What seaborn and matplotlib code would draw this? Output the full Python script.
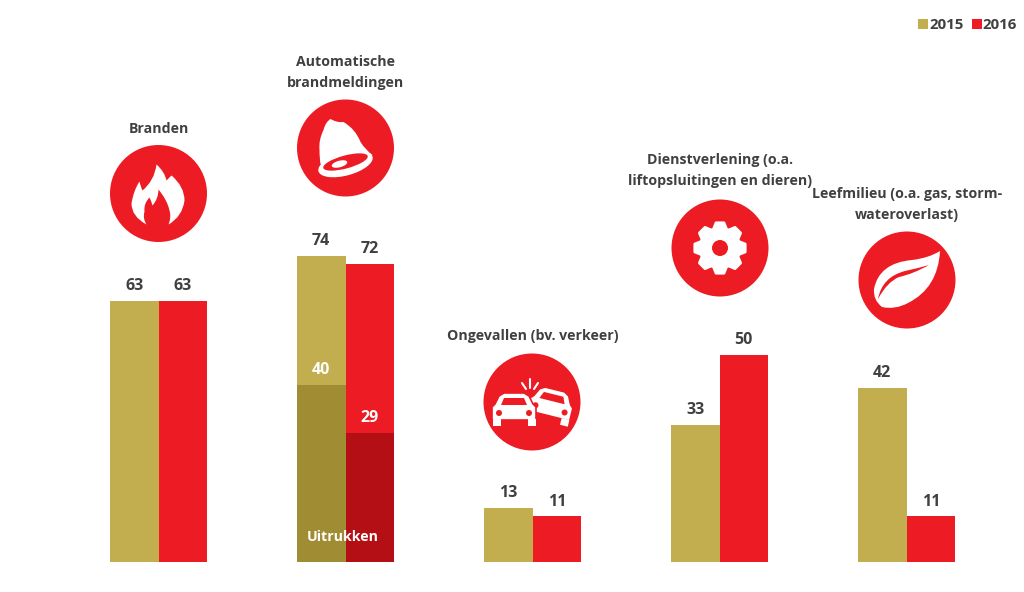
import numpy as np
import pandas as pd
import seaborn as sns
import matplotlib.pyplot as plt
from matplotlib.path import Path
from matplotlib.patches import Circle, Ellipse, PathPatch, Polygon, Rectangle
from matplotlib.transforms import Affine2D

categories = ['Branden', 'Automatische\nbrandmeldingen', 'Ongevallen (bv. verkeer)',
              'Dienstverlening (o.a.\nliftopsluitingen en dieren)', 'Leefmilieu (o.a. gas, storm-\nwateroverlast)']
years = ['2015', '2016']
values_2015 = [63, 74, 13, 33, 42]
values_2016 = [63, 72, 11, 50, 11]
# Uitrukken: labels say 40 and 29, the drawn bars are a bit taller than that
uitrukken_labels = [40, 29]
uitrukken_heights = [42.7, 31.2]

RED = '#ED1C24'
GOLD = '#C2AD4F'
DARK_GOLD = '#A08C32'
DARK_RED = '#B40F14'
TEXT = '#404040'

sns.set_theme(style='white')
plt.rcParams['font.family'] = ['Open Sans', 'DejaVu Sans']


def curved(ax, cx, cy, start, segs, color='white'):
    # segs is a list of (control, end) pairs, quadratic curves
    verts = [(cx + start[0], cy + start[1])]
    codes = [Path.MOVETO]
    for ctrl, end in segs:
        verts += [(cx + ctrl[0], cy + ctrl[1]), (cx + end[0], cy + end[1])]
        codes += [Path.CURVE3, Path.CURVE3]
    ax.add_patch(PathPatch(Path(verts, codes), fc=color, ec='none'))


def draw_flame(ax, cx, cy):
    curved(ax, cx, cy, (-2, -29), [
        ((6, -22), (8, -13)), ((10, -15), (13, -18)), ((26, -7), (26, 7)), ((24, 23), (10, 31)),
        ((13, 24), (11, 17)), ((9, 7), (0, -4)), ((0, 5), (-6, 12)), ((-7, 8), (-9, 4)),
        ((-15, 10), (-14, 18)), ((-16, 25), (-12, 31)), ((-27, 23), (-27, 10)), ((-25, -3), (-19, -12)),
        ((-18, -7), (-16, -3)), ((-4, -13), (-2, -29)),
    ])


def draw_bell(ax, cx, cy):
    curved(ax, cx, cy, (-15, -29), [
        ((-20, -26), (-22, -18)), ((-27, -8), (-26, 2)), ((-26, 10), (-25, 16)), ((-10, 26), (27, 7)),
        ((20, 2), (15, -6)), ((10, -19), (-2, -26)), ((-8, -25), (-15, -29)),
    ])
    ax.add_patch(Ellipse((0 + cx, cy + 16), 56, 23, angle=-15, fc='white', ec='none'))
    ax.add_patch(Ellipse((cx, cy + 14), 46, 13, angle=-15, fc=RED, ec='none'))
    ax.add_patch(Ellipse((cx - 6, cy + 16), 16, 6.5, angle=-15, fc='white', ec='none'))


def draw_gear(ax, cx, cy, teeth=8):
    pts = []
    step = 2 * np.pi / teeth
    for i in range(teeth):
        a = step * i - np.pi / 2
        for da, r in [(-0.42, 20), (-0.2, 25.5), (0.2, 25.5), (0.42, 20)]:
            pts.append((cx + r * np.cos(a + da * step), cy + r * np.sin(a + da * step)))
    ax.add_patch(Polygon(pts, fc='white', ec='white', lw=2, joinstyle='round'))
    ax.add_patch(Circle((cx, cy), 8, fc=RED, ec='none'))


def draw_leaf(ax, cx, cy):
    curved(ax, cx, cy, (-25, 27), [
        ((-34, 20), (-33, 9)), ((-28, -17), (5, -20)), ((22, -22), (33, -29)), ((31, 8), (1, 23)), ((-12, 30), (-25, 27)),
    ])
    curved(ax, cx, cy, (-29, 19), [
        ((-25, -3), (-2, -9)), ((12, -12), (22, -15)), ((6, -6), (-8, -3)), ((-20, 2), (-29, 19)),
    ], color=RED)


def draw_car(ax, cx, cy, angle=0):
    tr = Affine2D().rotate_deg(angle).translate(cx, cy) + ax.transData
    body = [(-22, 11), (-22, -2), (-19, -5), (-15, -13), (-10, -16), (10, -16), (15, -13), (19, -5), (22, -2), (22, 11)]
    window = [(-13, -4), (-10, -11), (10, -11), (13, -4)]
    ax.add_patch(Polygon(body, fc='white', ec=RED, lw=1.2, transform=tr, joinstyle='round', zorder=4))
    ax.add_patch(Rectangle((-21.5, 10), 8, 7, fc='white', ec='none', transform=tr, zorder=4))
    ax.add_patch(Rectangle((13.5, 10), 8, 7, fc='white', ec='none', transform=tr, zorder=4))
    ax.add_patch(Polygon(window, fc=RED, ec='none', transform=tr, zorder=4))
    ax.add_patch(Circle((-15, 4), 3, fc=RED, ec='none', transform=tr, zorder=4))
    ax.add_patch(Circle((15, 4), 3, fc=RED, ec='none', transform=tr, zorder=4))


def draw_crash(ax, cx, cy):
    draw_car(ax, cx + 19, cy + 3, angle=14)
    draw_car(ax, cx - 18, cy + 7)
    for x0, y0, x1, y1 in [(-6, -13, -10, -19), (-2, -14, -2, -23), (2, -13, 6, -19)]:
        ax.plot([cx + x0, cx + x1], [cy + y0, cy + y1], color='white', lw=1.5, zorder=4)


df = pd.DataFrame({
    'categorie': categories * 2,
    'jaar': [years[0]] * 5 + [years[1]] * 5,
    'waarde': values_2015 + values_2016,
})
df_uitrukken = pd.DataFrame({
    'categorie': [categories[1]] * 2,
    'jaar': years,
    'waarde': uitrukken_heights,
})

fig = plt.figure(figsize=(10.24, 5.92), dpi=100)
ax = fig.add_axes([0, 0, 1, 1])
sns.barplot(data=df, x='categorie', y='waarde', hue='jaar', order=categories, hue_order=years,
            palette=[GOLD, RED], width=0.52, gap=0, saturation=1, ax=ax, linewidth=0)
handles, labels = ax.get_legend_handles_labels()
for cont in ax.containers:
    ax.bar_label(cont, padding=5, color=TEXT, fontsize=11.5, fontweight='bold')

n_before = len(ax.containers)
sns.barplot(data=df_uitrukken, x='categorie', y='waarde', hue='jaar', order=categories, hue_order=years,
            palette=[DARK_GOLD, DARK_RED], width=0.52, gap=0, saturation=1, ax=ax, linewidth=0, legend=False)
for cont, lab in zip(ax.containers[n_before:], uitrukken_labels):
    ax.bar_label(cont, labels=[lab], padding=5, color='white', fontsize=11.5, fontweight='bold')

# 187 px between groups, baseline at y=562, 4.14 px per unit
ax.set_xlim(-158.5 / 187, (1024 - 158.5) / 187)
ax.set_ylim(-30 / 4.14, 562 / 4.14)
ax.axis('off')

ax.legend(handles, labels, ncol=2, frameon=False, loc='upper right', bbox_to_anchor=(1.007, 0.993),
          handlelength=0.68, handleheight=0.68, handletextpad=0.05, columnspacing=0.55,
          borderaxespad=0.55, labelcolor=TEXT, prop={'weight': 'bold', 'size': 10.8})

# overlay in pixel coordinates for icons and headings
over = fig.add_axes([0, 0, 1, 1], facecolor='none')
over.set_xlim(0, 1024)
over.set_ylim(592, 0)
over.axis('off')

icon_centers = [(158.5, 193.5), (345.5, 148), (532, 402), (720, 248), (907, 280)]
icon_funcs = [draw_flame, draw_bell, draw_crash, draw_gear, draw_leaf]
for (cx, cy), func in zip(icon_centers, icon_funcs):
    over.add_patch(Circle((cx, cy), 48.5, fc=RED, ec='none'))
    func(over, cx, cy)

heading_pos = [(158.5, 129), (345.5, 72.5), (532.5, 336), (720, 170.5), (907, 204.5)]
for text, (x, y) in zip(categories, heading_pos):
    over.text(x, y, text, ha='center', va='center', color=TEXT, fontsize=10.2, fontweight='bold', linespacing=1.6)

over.text(343, 537, 'Uitrukken', ha='center', va='center', color='white', fontsize=10.2, fontweight='bold')

fig.savefig('out.png', dpi=100)
plt.close()
